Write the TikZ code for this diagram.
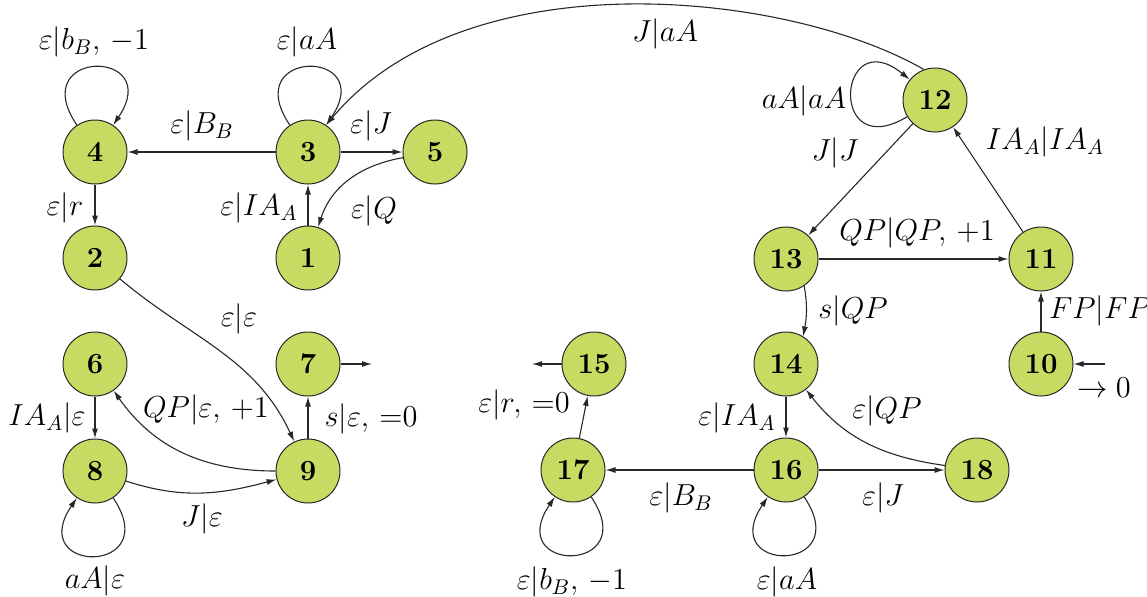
\documentclass[tikz,border=0pt]{standalone}
\usepackage{fix-cm}
\usetikzlibrary{arrows.meta}
\definecolor{nodegreen}{RGB}{199,219,99}
\definecolor{edgegray}{RGB}{40,40,40}
\begin{document}
\begin{tikzpicture}[x=0.5pt,y=0.5pt,
  state/.style={circle, draw=edgegray, line width=0.5pt, fill=nodegreen, minimum size=32pt, inner sep=0pt, font=\fontsize{14.6}{16}\selectfont\bfseries},
  lbl/.style={inner sep=0pt, font=\fontsize{15.2}{18}\selectfont},
  tr/.style={draw=edgegray, line width=0.55pt, -{Latex[length=5pt,width=3pt]}},
]
\useasboundingbox (0,0) rectangle (1147,-596);

% states
\node[state] (n1)  at (308,-258) {1};
\node[state] (n2)  at (95,-258)  {2};
\node[state] (n3)  at (308,-152) {3};
\node[state] (n4)  at (95,-152)  {4};
\node[state] (n5)  at (435,-152) {5};
\node[state] (n6)  at (95,-364)  {6};
\node[state] (n7)  at (308,-364) {7};
\node[state] (n8)  at (95,-471)  {8};
\node[state] (n9)  at (308,-471) {9};
\node[state] (n10) at (1041,-364) {10};
\node[state] (n11) at (1041,-259) {11};
\node[state] (n12) at (935,-100) {12};
\node[state] (n13) at (786,-259) {13};
\node[state] (n14) at (786,-364) {14};
\node[state] (n15) at (594,-364) {15};
\node[state] (n16) at (786,-470) {16};
\node[state] (n17) at (573,-470) {17};
\node[state] (n18) at (977,-470) {18};

\coordinate (o7)  at (372,-364);
\coordinate (o15) at (532,-364);
\coordinate (i10) at (1105,-364);

% left part
\draw[tr] (n3) -- (n4);
\draw[tr] (n3) -- (n5);
\draw[tr] (n5) to[out=190,in=72] (n1);
\draw[tr] (n1) -- (n3);
\draw[tr] (n4) -- (n2);
\draw[tr] (n4.124) .. controls +(124:93) and +(56:93) .. (n4.56);
\draw[tr] (n3.124) .. controls +(124:93) and +(56:93) .. (n3.56);
\draw[tr] (n2) to[out=-40,in=115] (n9);
\draw[tr] (n9) -- (n7);
\draw[tr] (n7) -- (o7);
\draw[tr] (n6) -- (n8);
\draw[tr] (n9) to[out=180,in=-55] (n6);
\draw[tr] (n8) to[out=-18,in=195] (n9);
\draw[tr] (n8.-56) .. controls +(-56:93) and +(-124:93) .. (n8.-124);

% right part
\draw[tr] (n12.110) .. controls (785.4,10) and (465.2,41.7) .. (n3.56);
\draw[tr] (n12.211) .. controls +(211:93) and +(141:93) .. (n12.141);
\draw[tr] (n12) -- (n13);
\draw[tr] (n11) -- (n12);
\draw[tr] (n13) -- (n11);
\draw[tr] (n10) -- (n11);
\draw[tr] (i10) -- (n10);
\draw[tr] (n13.-56) .. controls +(-80:20) and +(80:20) .. (n14.58);
\draw[tr] (n14) -- (n16);
\draw[tr] (n16) -- (n17);
\draw[tr] (n16) -- (n18);
\draw[tr] (n18) to[out=172,in=-52] (n14);
\draw[tr] (n17) -- (n15);
\draw[tr] (n15) -- (o15);
\draw[tr] (n17.-56) .. controls +(-56:93) and +(-124:93) .. (n17.-124);
\draw[tr] (n16.-56) .. controls +(-56:93) and +(-124:93) .. (n16.-124);

% labels
\node[lbl] (l44)   at (94,-42)   {$\varepsilon|b_B,\,-1$};
\node[lbl] (l33)   at (307,-42)  {$\varepsilon|aA$};
\node[lbl] (l34)   at (202,-126) {$\varepsilon|B_B$};
\node[lbl] (l35)   at (371,-126) {$\varepsilon|J$};
\node[lbl] (l42)   at (65,-208)  {$\varepsilon|r$};
\node[lbl] (l13)   at (259,-208) {$\varepsilon|IA_A$};
\node[lbl] (l51)   at (374,-211) {$\varepsilon|Q$};
\node[lbl] (l29)   at (239,-319) {$\varepsilon|\varepsilon$};
\node[lbl] (l96)   at (206,-410) {$QP|\varepsilon,\,+1$};
\node[lbl] (l68)   at (47,-418)  {$IA_A|\varepsilon$};
\node[lbl] (l97)   at (371,-419) {$s|\varepsilon,\,{=}0$};
\node[lbl] (l89)   at (202,-519) {$J|\varepsilon$};
\node[lbl] (l88)   at (95,-581)  {$aA|\varepsilon$};
\node[lbl] (l123)  at (665,-34)  {$J|aA$};
\node[lbl] (l1212) at (804,-101) {$aA|aA$};
\node[lbl] (l1213) at (835,-153) {$J|J$};
\node[lbl] (l1112) at (1045,-142) {$IA_A|IA_A$};
\node[lbl] (l1311) at (917,-233) {$QP|QP,\,+1$};
\node[lbl] (l1314) at (853,-311) {$s|QP$};
\node[lbl] (l1011) at (1100,-311) {$FP|FP$};
\node[lbl] (l10)   at (1104,-388) {$\rightarrow 0$};
\node[lbl] (l1416) at (737,-418) {$\varepsilon|IA_A$};
\node[lbl] (l1814) at (887,-411) {$\varepsilon|QP$};
\node[lbl] (l1715) at (524,-405) {$\varepsilon|r,\,{=}0$};
\node[lbl] (l1617) at (681,-498) {$\varepsilon|B_B$};
\node[lbl] (l1618) at (883,-498) {$\varepsilon|J$};
\node[lbl] (l1717) at (572,-582) {$\varepsilon|b_B,\,-1$};
\node[lbl] (l1616) at (787,-582) {$\varepsilon|aA$};
\end{tikzpicture}
\end{document}
